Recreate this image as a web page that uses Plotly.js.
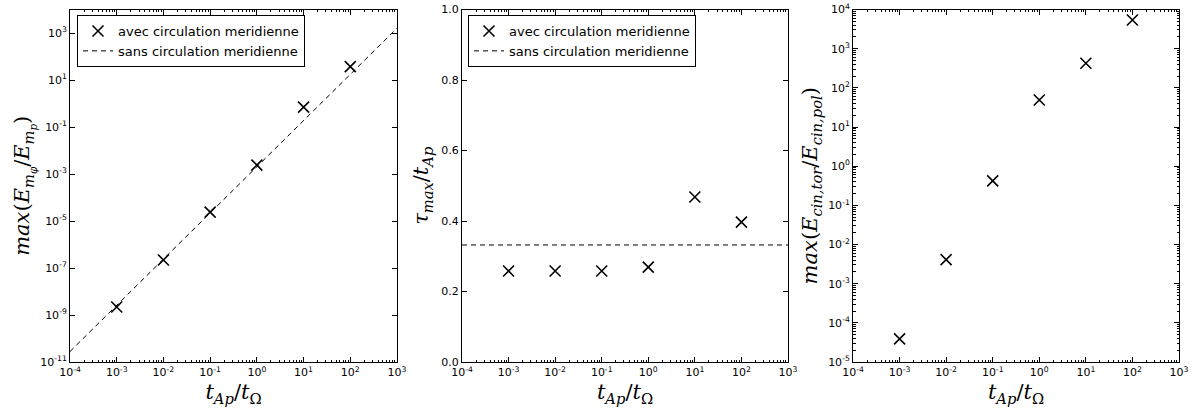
<!DOCTYPE html>
<html>
<head>
<meta charset="utf-8">
<script src="https://cdn.plot.ly/plotly-3.0.1.min.js"></script>
<style>html,body{margin:0;padding:0;background:#fff}#chart{width:1192px;height:408px}</style>
</head>
<body>
<div id="chart"></div>
<script>
// Data
const tRatio = [1e-3, 1e-2, 1e-1, 1e0, 1e1, 1e2];
const energyRatioAvec = [2.2e-9, 2.2e-7, 2.4e-5, 2.4e-3, 0.7, 37];
const energyRatioSansX = [1e-4, 1e3];
const energyRatioSansY = [2.8e-11, 1.6e3];
const tauAvec = [0.258, 0.258, 0.258, 0.269, 0.468, 0.397];
const tauSansX = [1e-4, 1e3];
const tauSansY = [0.332, 0.332];
const cinRatio = [3.9e-5, 4.1e-3, 0.42, 49, 425, 5400];
const xTickVals = [1e-4, 1e-3, 1e-2, 1e-1, 1e0, 1e1, 1e2, 1e3];
const xTickText = ['10<sup>-4</sup>','10<sup>-3</sup>','10<sup>-2</sup>','10<sup>-1</sup>','10<sup>0</sup>','10<sup>1</sup>','10<sup>2</sup>','10<sup>3</sup>'];
const y1TickVals = [1e-11, 1e-9, 1e-7, 1e-5, 1e-3, 1e-1, 1e1, 1e3];
const y1TickText = ['10<sup>-11</sup>','10<sup>-9</sup>','10<sup>-7</sup>','10<sup>-5</sup>','10<sup>-3</sup>','10<sup>-1</sup>','10<sup>1</sup>','10<sup>3</sup>'];
const y2TickVals = [0.0, 0.2, 0.4, 0.6, 0.8, 1.0];
const y2TickText = ['0.0','0.2','0.4','0.6','0.8','1.0'];
const y3TickVals = [1e-5, 1e-4, 1e-3, 1e-2, 1e-1, 1e0, 1e1, 1e2, 1e3, 1e4];
const y3TickText = ['10<sup>-5</sup>','10<sup>-4</sup>','10<sup>-3</sup>','10<sup>-2</sup>','10<sup>-1</sup>','10<sup>0</sup>','10<sup>1</sup>','10<sup>2</sup>','10<sup>3</sup>','10<sup>4</sup>'];
const labelAvec = 'avec circulation meridienne';
const labelSans = 'sans circulation meridienne';

const markerStyle = {symbol: 'x-thin', size: 11, color: 'black', line: {color: 'black', width: 1.6}};
const dashStyle = {color: 'black', width: 1, dash: '5px,4px'};

const traces = [
  {x: tRatio, y: energyRatioAvec, mode: 'markers', marker: markerStyle, name: labelAvec, xaxis: 'x', yaxis: 'y', legend: 'legend'},
  {x: energyRatioSansX, y: energyRatioSansY, mode: 'lines', line: dashStyle, name: labelSans, xaxis: 'x', yaxis: 'y', legend: 'legend'},
  {x: tRatio, y: tauAvec, mode: 'markers', marker: markerStyle, name: labelAvec, xaxis: 'x2', yaxis: 'y2', legend: 'legend2'},
  {x: tauSansX, y: tauSansY, mode: 'lines', line: dashStyle, name: labelSans, xaxis: 'x2', yaxis: 'y2', legend: 'legend2'},
  {x: tRatio, y: cinRatio, mode: 'markers', marker: markerStyle, name: labelAvec, xaxis: 'x3', yaxis: 'y3', showlegend: false}
];

const tickFont = {family: 'DejaVu Sans', size: 11, color: 'black'};
const titleFont = {family: 'DejaVu Serif', size: 21, color: 'black'};
const xTitle = '<i>t</i><sub><i>Ap</i></sub>/<i>t</i><sub>Ω</sub>';
const yDom = [46/408, 1 - 9.5/408];

function xAxis(dom, anchor) {
  return {
    type: 'log', domain: dom, anchor: anchor, range: [-4, 3],
    tickvals: xTickVals, ticktext: xTickText, tickfont: tickFont,
    ticks: 'inside', ticklen: 5, tickwidth: 1, tickcolor: 'black',
    minor: {ticks: 'inside', ticklen: 2.5, tickwidth: 1, tickcolor: 'black', dtick: 'D1', showgrid: false},
    showline: true, linecolor: 'black', linewidth: 1, mirror: 'allticks',
    showgrid: false, zeroline: false,
    title: {text: xTitle, font: titleFont, standoff: 6}
  };
}
function yAxisBase(anchor) {
  return {anchor: anchor, domain: yDom, tickfont: tickFont,
    ticks: 'inside', ticklen: 5, tickwidth: 1, tickcolor: 'black',
    showline: true, linecolor: 'black', linewidth: 1, mirror: 'allticks',
    showgrid: false, zeroline: false};
}

const y1 = Object.assign(yAxisBase('x'), {type: 'log', range: [-11, 4], tickvals: y1TickVals, ticktext: y1TickText,
  title: {text: '<i>max</i>(<i>E</i><sub><i>m<sub>φ</sub></i></sub>/<i>E</i><sub><i>m<sub>p</sub></i></sub>)', font: titleFont, standoff: 4}});
const y2 = Object.assign(yAxisBase('x2'), {range: [0, 1], tickvals: y2TickVals, ticktext: y2TickText,
  title: {text: '<i>τ</i><sub><i>max</i></sub>/<i>t</i><sub><i>Ap</i></sub>', font: titleFont, standoff: 6}});
const y3 = Object.assign(yAxisBase('x3'), {type: 'log', range: [-5, 4], tickvals: y3TickVals, ticktext: y3TickText,
  minor: {ticks: 'inside', ticklen: 2.5, tickwidth: 1, tickcolor: 'black', dtick: 'D1', showgrid: false},
  title: {text: '<i>max</i>(<i>E</i><sub><i>cin,tor</i></sub>/<i>E</i><sub><i>cin,pol</i></sub>)', font: titleFont, standoff: 4}});

const legendBase = {
  xanchor: 'left', yanchor: 'top', bgcolor: 'white', bordercolor: 'black', borderwidth: 1,
  font: {family: 'DejaVu Sans', size: 13, color: 'black'}, tracegroupgap: 0, itemwidth: 30
};

const layout = {
  width: 1192, height: 408,
  margin: {l: 0, r: 0, t: 0, b: 0},
  paper_bgcolor: 'white', plot_bgcolor: 'white',
  showlegend: true,
  xaxis: xAxis([70/1192, 397/1192], 'y'),
  xaxis2: xAxis([462/1192, 788/1192], 'y2'),
  xaxis3: xAxis([853/1192, 1179/1192], 'y3'),
  yaxis: y1, yaxis2: y2, yaxis3: y3,
  legend: Object.assign({}, legendBase, {x: 77/1192, y: 1 - 15/408}),
  legend2: Object.assign({}, legendBase, {x: 468/1192, y: 1 - 15/408})
};

Plotly.newPlot('chart', traces, layout, {displayModeBar: false, staticPlot: true});
</script>
</body>
</html>
